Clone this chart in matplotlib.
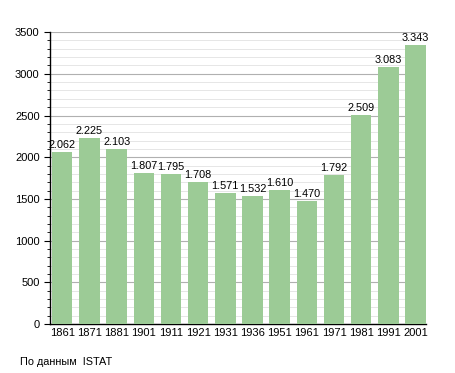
import numpy as np
import matplotlib
matplotlib.use("Agg")
import matplotlib.pyplot as plt
from matplotlib.ticker import MultipleLocator

years = ["1861", "1871", "1881", "1901", "1911", "1921", "1931",
         "1936", "1951", "1961", "1971", "1981", "1991", "2001"]
population = [2062, 2225, 2103, 1807, 1795, 1708, 1571,
              1532, 1610, 1470, 1792, 2509, 3083, 3343]

plt.rcParams['font.family'] = ['Liberation Sans', 'DejaVu Sans']

fig = plt.figure(figsize=(4.55, 3.73), dpi=100)
ax = fig.add_axes([0.11, 0.131, 0.826, 0.783])

x = np.arange(len(years))
ax.bar(x, population, width=0.75, color='#9ccb96', zorder=3)

for xi, v in zip(x, population):
    label = f"{v:,}".replace(",", ".")
    ax.text(xi, v + 25, label, ha='center', va='bottom', fontsize=7.8, zorder=4)

ax.set_xlim(-0.45, len(years) - 0.62)
ax.set_ylim(0, 3500)
ax.set_xticks(x)
ax.set_xticklabels(years, fontsize=8)
ax.yaxis.set_major_locator(MultipleLocator(500))
ax.yaxis.set_minor_locator(MultipleLocator(100))
ax.tick_params(axis='y', labelsize=8, length=4, width=0.8)
ax.tick_params(axis='y', which='minor', length=2.5, width=0.6)
ax.tick_params(axis='x', length=0, pad=3)

ax.grid(axis='y', which='major', color='#b0b0b0', linewidth=0.8, zorder=0)
ax.grid(axis='y', which='minor', color='#e2e2e2', linewidth=0.6, zorder=0)

for s in ['top', 'right']:
    ax.spines[s].set_visible(False)
ax.spines['left'].set_linewidth(1.0)
ax.spines['bottom'].set_linewidth(1.0)

fig.text(20 / 455, 1 - 362 / 373, "По данным  ISTAT", fontsize=7.8, va='center')

fig.savefig("out.png", dpi=100)
